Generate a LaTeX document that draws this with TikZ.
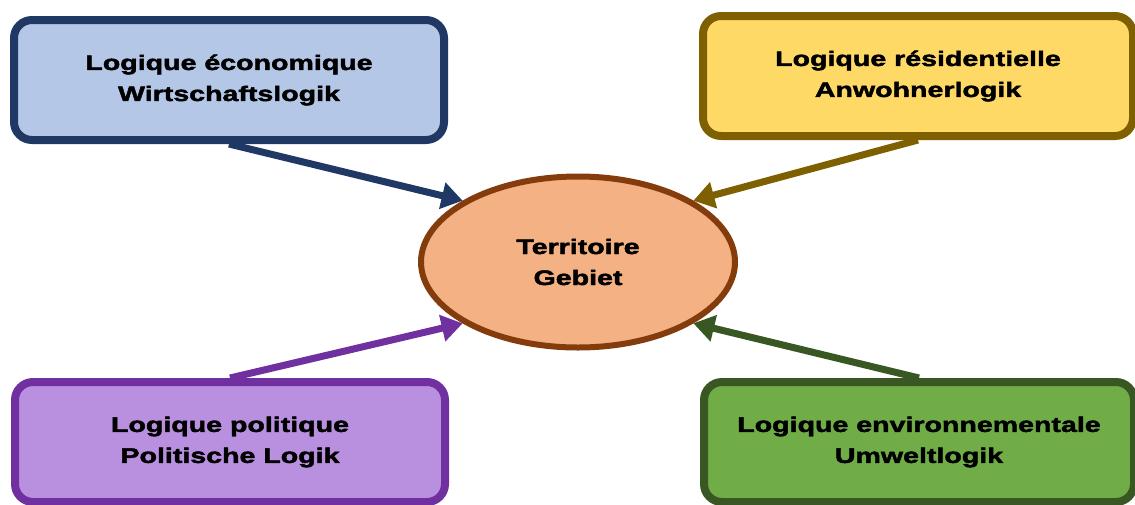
\documentclass[tikz,border=0pt]{standalone}
\usepackage{fontspec}
\newfontfamily\logikfont{Liberation Sans}[FakeStretch=1.36, FakeBold=2.2]
\usetikzlibrary{shapes.geometric, arrows.meta}
\definecolor{ecofill}{HTML}{B4C7E7}
\definecolor{ecoline}{HTML}{203864}
\definecolor{resfill}{HTML}{FFD966}
\definecolor{resline}{HTML}{7F6000}
\definecolor{polfill}{HTML}{B98FE0}
\definecolor{polline}{HTML}{7030A0}
\definecolor{envfill}{HTML}{70AD47}
\definecolor{envline}{HTML}{385723}
\definecolor{terfill}{HTML}{F4B183}
\definecolor{terline}{HTML}{843C0C}

\begin{document}
\begin{tikzpicture}[x=1pt, y=-1pt,
        every node/.style={font=\logikfont\bfseries\fontsize{21}{31}\selectfont, align=center},
        logik/.style={draw, rectangle, rounded corners=18pt, line width=8pt,
            minimum width=430pt, minimum height=120pt, inner sep=0pt},
        pfeil/.style={-{Triangle[length=21pt, width=26pt]}, line width=7pt}]
        \useasboundingbox (0,0) rectangle (1135,504);

        % centre
        \node[draw=terline, fill=terfill, ellipse, line width=6pt,
            minimum width=314pt, minimum height=171pt, inner sep=0pt] (terr) at (578,262) {Territoire\\Gebiet};

        % the four logics
        \node[logik, draw=ecoline, fill=ecofill] (eco) at (229,80) {Logique économique\\Wirtschaftslogik};
        \node[logik, draw=resline, fill=resfill] (res) at (918,76) {Logique résidentielle\\Anwohnerlogik};
        \node[logik, draw=polline, fill=polfill] (pol) at (230,442) {Logique politique\\Politische Logik};
        \node[logik, draw=envline, fill=envfill] (env) at (919,442) {Logique environnementale\\Umweltlogik};

        \draw[pfeil, ecoline] (eco.south) -- (terr.152);
        \draw[pfeil, resline] (res.south) -- (terr.28);
        \draw[pfeil, polline] (pol.north) -- (terr.208);
        \draw[pfeil, envline] (env.north) -- (terr.332);
    \end{tikzpicture}
\end{document}
